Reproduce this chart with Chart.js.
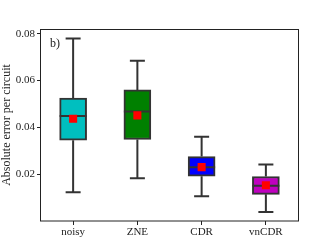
<!DOCTYPE html>
<html>
<head>
<meta charset="utf-8">
<script src="https://cdn.jsdelivr.net/npm/chart.js@4.4.1/dist/chart.umd.min.js"></script>
<style>
html,body{margin:0;padding:0;background:#fff;}
canvas{display:block;}
</style>
</head>
<body>
<canvas id="c" width="332" height="249"></canvas>
<script>
const categories = ['noisy', 'ZNE', 'CDR', 'vnCDR'];
const whiskerLow = [0.0123, 0.0183, 0.0106, 0.0038];
const q1 = [0.0345, 0.0348, 0.0191, 0.0114];
const median = [0.0448, 0.0468, 0.0230, 0.0151];
const q3 = [0.0525, 0.0560, 0.0275, 0.0190];
const whiskerHigh = [0.0779, 0.0684, 0.0360, 0.0241];
const means = [0.0437, 0.0451, 0.0230, 0.0153];
const boxColors = ['#00bfbf', '#008000', '#0000ff', '#bf00bf'];
const yTicks = [0.02, 0.04, 0.06, 0.08];
const panelLabel = 'b)';

const FONT = "'Liberation Serif', 'DejaVu Serif', serif";
const INK = '#222';

const boxPlugin = {
  id: 'boxparts',
  afterDatasetDraw(chart, args) {
    if (args.index !== 0) return;
    const ctx = chart.ctx;
    const x = chart.scales.x, y = chart.scales.y;
    ctx.save();
    ctx.strokeStyle = '#333';
    ctx.lineWidth = 2;
    categories.forEach((c, i) => {
      const cx = x.getPixelForValue(i);
      const bar = chart.getDatasetMeta(0).data[i];
      const hw = bar.width / 2;
      ctx.beginPath();
      ctx.moveTo(cx, y.getPixelForValue(q3[i]));
      ctx.lineTo(cx, y.getPixelForValue(whiskerHigh[i]));
      ctx.moveTo(cx, y.getPixelForValue(q1[i]));
      ctx.lineTo(cx, y.getPixelForValue(whiskerLow[i]));
      const cap = 7.5;
      ctx.moveTo(cx - cap, y.getPixelForValue(whiskerHigh[i]));
      ctx.lineTo(cx + cap, y.getPixelForValue(whiskerHigh[i]));
      ctx.moveTo(cx - cap, y.getPixelForValue(whiskerLow[i]));
      ctx.lineTo(cx + cap, y.getPixelForValue(whiskerLow[i]));
      ctx.moveTo(cx - hw, y.getPixelForValue(median[i]));
      ctx.lineTo(cx + hw, y.getPixelForValue(median[i]));
      ctx.stroke();
    });
    ctx.restore();
  },
  afterDraw(chart) {
    const ctx = chart.ctx;
    const a = chart.chartArea;
    ctx.save();
    ctx.strokeStyle = INK;
    ctx.lineWidth = 1;
    ctx.strokeRect(Math.round(a.left) - 0.5, Math.round(a.top) + 0.5,
      Math.round(a.right - a.left) + 1, Math.round(a.bottom - a.top) - 0.5);
    ctx.fillStyle = INK;
    ctx.font = '12px ' + FONT;
    ctx.textBaseline = 'middle';
    ctx.textAlign = 'left';
    ctx.fillText(panelLabel, a.left + 9, a.top + 15);
    ctx.restore();
  }
};

new Chart(document.getElementById('c'), {
  type: 'bar',
  data: {
    labels: categories,
    datasets: [
      {
        label: 'box',
        data: categories.map((c, i) => [q1[i], q3[i]]),
        backgroundColor: boxColors,
        borderColor: '#333',
        borderWidth: 2,
        borderSkipped: false,
        barThickness: 27,
        order: 2
      },
      {
        type: 'line',
        label: 'mean',
        data: means,
        showLine: false,
        pointStyle: 'rect',
        pointRadius: 5.7,
        pointBackgroundColor: '#ff0000',
        pointBorderWidth: 0,
        borderColor: '#ff0000',
        order: 1
      }
    ]
  },
  options: {
    responsive: false,
    animation: false,
    events: [],
    layout: { padding: { left: 0, right: 34, top: 29, bottom: 0 } },
    plugins: { legend: { display: false }, tooltip: { enabled: false } },
    scales: {
      x: {
        offset: true,
        grid: { display: true, drawOnChartArea: false, drawTicks: true, tickLength: 4, color: INK, offset: false },
        border: { display: false },
        ticks: { color: INK, font: { family: FONT, size: 11 }, padding: 1, maxRotation: 0 },
        afterFit(s) { s.height = 28; }
      },
      y: {
        min: 0,
        max: 0.082,
        grid: { display: true, drawOnChartArea: false, drawTicks: true, tickLength: 4, color: INK },
        border: { display: false },
        afterBuildTicks(s) { s.ticks = yTicks.map(v => ({ value: v })); },
        ticks: { color: INK, font: { family: FONT, size: 11 }, padding: 2, callback: v => Number(v).toFixed(2) },
        title: { display: true, text: 'Absolute error per circuit', color: INK, font: { family: FONT, size: 12 }, padding: { top: 0, bottom: 2 } },
        afterFit(s) { s.width = 41; }
      }
    }
  },
  plugins: [boxPlugin]
});
</script>
</body>
</html>
